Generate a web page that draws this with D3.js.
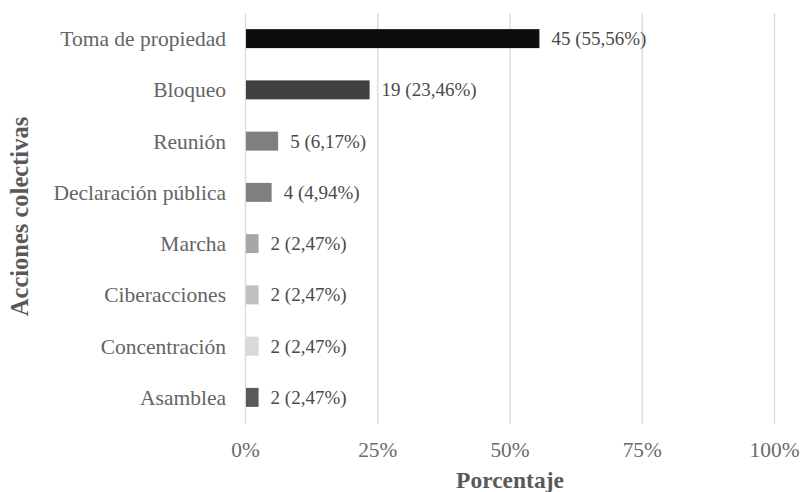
<!DOCTYPE html>
<html><head><meta charset="utf-8">
<script src="https://cdn.jsdelivr.net/npm/d3@7"></script>
<style>body{margin:0;background:#fff}svg{display:block}</style>
</head><body>
<svg id="c" width="802" height="492"></svg>
<script>
const categories = ["Toma de propiedad","Bloqueo","Reunión","Declaración pública","Marcha","Ciberacciones","Concentración","Asamblea"];
const counts = [45,19,5,4,2,2,2,2];
const percents = [55.56,23.46,6.17,4.94,2.47,2.47,2.47,2.47];
const barColors = ["#0d0d0d","#404040","#7f7f7f","#7f7f7f","#a6a6a6","#bfbfbf","#d9d9d9","#595959"];
const tickValues = [0,25,50,75,100];

const svg = d3.select("#c");
const font = "'Liberation Serif', 'Times New Roman', serif";
const x = d3.scaleLinear().domain([0,100]).range([245.5,774.5]);
const y = d3.scaleBand().domain(categories).range([13,423]).paddingInner(0.63).paddingOuter(0.315);

// gridlines
svg.append("g").selectAll("line").data(tickValues).join("line")
  .attr("x1", d=>x(d)).attr("x2", d=>x(d)).attr("y1",13).attr("y2",423.5)
  .attr("stroke","#d9d9d9").attr("stroke-width",1.3);

// bars
svg.append("g").selectAll("rect").data(categories).join("rect")
  .attr("x", x(0)+0.5).attr("y", d=>y(d))
  .attr("width", (d,i)=>x(percents[i])-x(0)-0.5).attr("height", y.bandwidth())
  .attr("fill",(d,i)=>barColors[i]);

// value labels
svg.append("g").selectAll("text").data(categories).join("text")
  .attr("x",(d,i)=>x(percents[i])+12).attr("y", d=>y(d)+y.bandwidth()/2+6.5)
  .attr("font-family",font).attr("font-size",19).attr("fill","#4a4a4a")
  .text((d,i)=>`${counts[i]} (${percents[i].toFixed(2).replace(".",",")}%)`);

// category labels
svg.append("g").selectAll("text").data(categories).join("text")
  .attr("x",226).attr("y", d=>y(d)+y.bandwidth()/2+7.5)
  .attr("text-anchor","end")
  .attr("font-family",font).attr("font-size",21.5).attr("fill","#646464")
  .text(d=>d);

// tick labels
svg.append("g").selectAll("text").data(tickValues).join("text")
  .attr("x", d=>x(d)).attr("y",457).attr("text-anchor","middle")
  .attr("font-family",font).attr("font-size",21.4).attr("fill","#6a6a6a")
  .text(d=>d+"%");

// axis titles
svg.append("text").attr("x",(x(0)+x(100))/2).attr("y",488).attr("text-anchor","middle")
  .attr("font-family",font).attr("font-size",23.5).attr("font-weight","bold").attr("fill","#595959")
  .text("Porcentaje");
svg.append("text").attr("transform","translate(28,216.5) rotate(-90)").attr("text-anchor","middle")
  .attr("font-family",font).attr("font-size",24.5).attr("font-weight","bold").attr("fill","#595959")
  .text("Acciones colectivas");
</script>
</body></html>
